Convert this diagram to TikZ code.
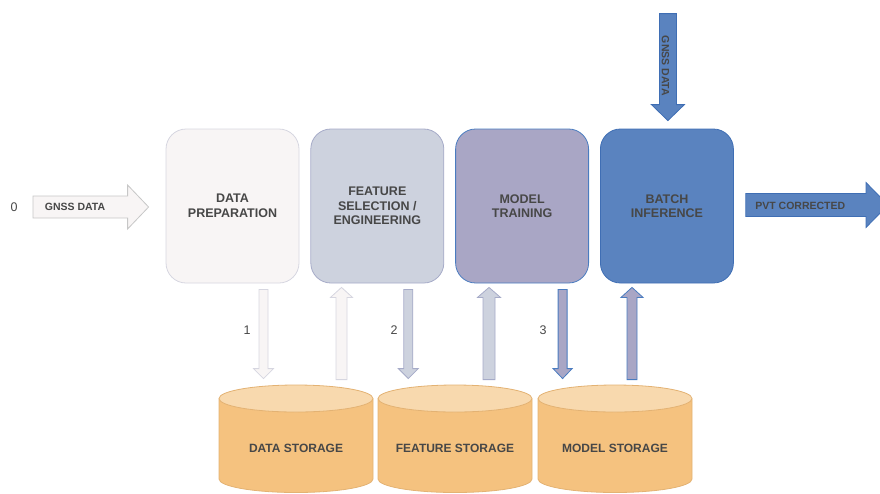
\documentclass[tikz,border=0pt]{standalone}
\usepackage{fontspec}
\setmainfont{Liberation Sans}
\usetikzlibrary{positioning,calc}
\definecolor{txt}{HTML}{474747}
\definecolor{c1}{HTML}{F8F5F5}\definecolor{e1}{HTML}{D6D6E0}
\definecolor{c2}{HTML}{CDD2DE}\definecolor{e2}{HTML}{A6ABC8}
\definecolor{c3}{HTML}{A9A6C5}\definecolor{e3}{HTML}{4A7CC0}
\definecolor{c4}{HTML}{5A83BF}\definecolor{e4}{HTML}{3F6EB4}
\definecolor{cside}{HTML}{F5C27F}\definecolor{ctop}{HTML}{F8D9AE}\definecolor{cedge}{HTML}{E3B273}
% fat arrow: style, tail, tip, shaft half width, head half width, head length
\newcommand{\fatarrow}[6]{%
 \coordinate (fab) at ($(#3)!#6!(#2)$);
 \draw[#1] ($(#2)!#4!90:(#3)$) -- ($(fab)!#4!90:(#3)$) -- ($(fab)!#5!90:(#3)$) -- (#3)
  -- ($(fab)!#5!-90:(#3)$) -- ($(fab)!#4!-90:(#3)$) -- ($(#2)!#4!-90:(#3)$) -- cycle;}
\begin{document}
\begin{tikzpicture}[x=1pt,y=-1pt,line width=0.8pt,
 stage/.style={rectangle,rounded corners=20pt,minimum width=133pt,minimum height=154pt,
  align=center,text=txt,font=\fontsize{12.5}{14.5}\selectfont\bfseries},
 store/.style={minimum width=154pt,minimum height=126pt,text=txt,font=\fontsize{12}{14}\selectfont\bfseries},
 lbl/.style={text=txt,inner sep=0pt,font=\fontsize{10.5}{12}\selectfont\bfseries},
 num/.style={text=txt,font=\fontsize{12.5}{14}\selectfont},
 a1/.style={fill=c1,draw=e1}, a2/.style={fill=c2,draw=e2},
 a3/.style={fill=c3,draw=e3}, a4/.style={fill=c4,draw=e4},
 a0/.style={fill=c1,draw=black!22},
 cylside/.style={fill=cside,draw=cedge}, cyltop/.style={fill=ctop,draw=cedge}]
\useasboundingbox (0,0) rectangle (880,493);
% pipeline stages
\node[stage,a1] (prep) at (232.5,206) {DATA\\PREPARATION};
\node[stage,a2,right=11pt of prep] (feat) {FEATURE\\SELECTION /\\ENGINEERING};
\node[stage,a3,right=11pt of feat] (train) {MODEL\\TRAINING};
\node[stage,a4,right=11pt of train] (infer) {BATCH\\INFERENCE};
% storages
\foreach \cx in {296,455,615} {
 \draw[cylside] (\cx-77,398.5) -- (\cx-77,479) arc[start angle=180,end angle=360,x radius=77pt,y radius=13.5pt] -- (\cx+77,398.5);
 \draw[cyltop] (\cx,398.5) ellipse[x radius=77pt,y radius=13.5pt];
}
\node[store] (ds) at (296,448) {DATA STORAGE};
\node[store] (fs) at (455,448) {FEATURE STORAGE};
\node[store] (ms) at (615,448) {MODEL STORAGE};
% input / output
\coordinate (g0) at (33,207);
\coordinate (g1) at ($(prep.west)+(-17,1)$);
\fatarrow{a0}{g0}{g1}{11pt}{22pt}{21pt}
\node[lbl] (gin) at (75,207) {GNSS DATA};
\node[num] (n0) at (14,207) {0};
\coordinate (t1) at ($(infer.north)+(1,-8)$);
\coordinate (t0) at ($(t1)+(0,-107)$);
\fatarrow{a4}{t0}{t1}{8.5pt}{16.5pt}{16pt}
\node[lbl,rotate=-90] (gtop) at (665.5,66) {GNSS DATA};
\coordinate (p0) at ($(infer.east)+(12,-1)$);
\coordinate (p1) at (888,205);
\fatarrow{a4}{p0}{p1}{11.5pt}{22.5pt}{22pt}
\node[lbl,anchor=west] (pvt) at (755,206) {PVT CORRECTED};
% to and from storage
\coordinate (d1a) at ($(prep.south)+(31,6)$);
\coordinate (d1b) at ($(d1a |- ds.north)+(0,-6)$);
\coordinate (u1a) at ($(ds.north)+(45.5,-5)$);
\coordinate (u1b) at ($(u1a |- feat.south)+(0,4)$);
\coordinate (d2a) at ($(feat.south)+(31,6)$);
\coordinate (d2b) at ($(d2a |- fs.north)+(0,-6)$);
\coordinate (u2a) at ($(fs.north)+(34,-5)$);
\coordinate (u2b) at ($(u2a |- train.south)+(0,4)$);
\coordinate (d3a) at ($(train.south)+(40.5,6)$);
\coordinate (d3b) at ($(d3a |- ms.north)+(0,-6)$);
\coordinate (u3a) at ($(ms.north)+(17,-5)$);
\coordinate (u3b) at ($(u3a |- infer.south)+(0,4)$);
\fatarrow{a1}{d1a}{d1b}{4.5pt}{10pt}{10pt}
\fatarrow{a1}{u1a}{u1b}{5.5pt}{11pt}{10pt}
\fatarrow{a2}{d2a}{d2b}{4.5pt}{10pt}{10pt}
\fatarrow{a2}{u2a}{u2b}{6pt}{11.5pt}{10pt}
\fatarrow{a3}{d3a}{d3b}{4.5pt}{9.5pt}{10pt}
\fatarrow{a3}{u3a}{u3b}{5pt}{11pt}{10pt}
\node[num] (n1) at (247,330) {1};
\node[num] (n2) at (394,330) {2};
\node[num] (n3) at (543,330) {3};
\end{tikzpicture}
\end{document}
